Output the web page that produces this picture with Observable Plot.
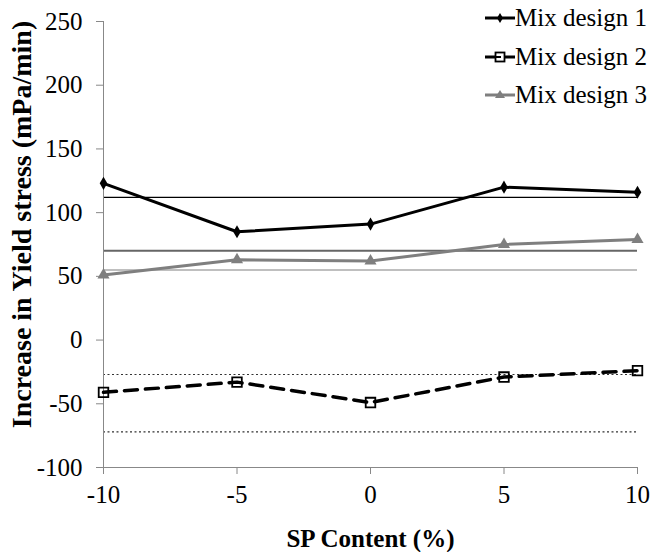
<!DOCTYPE html>
<html>
<head>
<meta charset="utf-8">
<script src="https://cdn.jsdelivr.net/npm/d3@7"></script>
<script src="https://cdn.jsdelivr.net/npm/@observablehq/plot@0.6"></script>
<style>
  body { margin: 0; background: #fff; }
  #chart { position: relative; width: 652px; height: 552px; font-family: "Liberation Serif", "Times New Roman", serif; }
  .legend-item { position: absolute; left: 485px; height: 30px; display: flex; align-items: center; font-size: 25px; white-space: nowrap; color: #000; }
  .legend-item svg { display: block; }
</style>
</head>
<body>
<div id="chart"></div>
<script>
// SP content (%) on the x axis
const spContent = [-10, -5, 0, 5, 10];

// Increase in yield stress (mPa/min) for each mix design
const mix1 = [123, 85, 91, 120, 116];
const mix2 = [-41, -33, -49, -29, -24];
const mix3 = [51, 63, 62, 75, 79];

// Horizontal reference levels
const mix1Level = [112];
const mix3Levels = [70, 55];
const mix2Levels = [-27, -72];

const seriesNames = ["Mix design 1", "Mix design 2", "Mix design 3"];
const xTicks = [-10, -5, 0, 5, 10];
const yTicks = [-100, -50, 0, 50, 100, 150, 200, 250];

const toRows = (vals) => spContent.map((x, i) => ({x, y: vals[i]}));
const rows1 = toRows(mix1), rows2 = toRows(mix2), rows3 = toRows(mix3);

const serif = "'Liberation Serif', 'Times New Roman', serif";

const plot = Plot.plot({
  width: 652,
  height: 552,
  marginLeft: 103,
  marginRight: 15,
  marginTop: 21,
  marginBottom: 85,
  style: { fontFamily: serif, fontSize: "25px", background: "#fff", color: "#000" },
  x: { domain: [-10, 10] },
  y: { domain: [-100, 250] },
  marks: [
    // reference levels
    Plot.ruleY(mix1Level, { stroke: "#000", strokeWidth: 1.2 }),
    Plot.ruleY([mix3Levels[0]], { stroke: "#666", strokeWidth: 2 }),
    Plot.ruleY([mix3Levels[1]], { stroke: "#aaa", strokeWidth: 1.5 }),
    Plot.ruleY(mix2Levels, { stroke: "#333", strokeWidth: 1.2, strokeDasharray: "2,2.5" }),
    // axes
    Plot.ruleX([-10], { stroke: "#888", strokeWidth: 1 }),
    Plot.ruleY([-100], { stroke: "#888", strokeWidth: 1 }),
    Plot.axisY({ ticks: yTicks, tickSize: 7, tickPadding: 14, stroke: "#888", fill: "#000", fontSize: 25, fontFamily: serif, label: null, tickFormat: d => String(d) }),
    Plot.axisX({ ticks: xTicks, tickSize: 7, tickPadding: 11, stroke: "#888", fill: "#000", fontSize: 25, fontFamily: serif, label: null, tickFormat: d => String(d) }),
    // axis titles
    Plot.text(["Increase in Yield stress (mPa/min)"], {
      frameAnchor: "left", textAnchor: "middle", rotate: -90, dx: -81, dy: -20,
      fontWeight: "bold", fontSize: 28, fontFamily: serif, text: d => d
    }),
    Plot.text(["SP Content (%)"], {
      frameAnchor: "bottom", dy: 79, fontWeight: "bold", fontSize: 25, fontFamily: serif, text: d => d
    }),
    // series
    Plot.line(rows3, { x: "x", y: "y", stroke: "#7f7f7f", strokeWidth: 3 }),
    Plot.dot(rows3, { x: "x", y: "y", symbol: "triangle", fill: "#7f7f7f", r: 4.5 }),
    Plot.line(rows1, { x: "x", y: "y", stroke: "#000", strokeWidth: 3 }),
    Plot.dot(rows1, { x: "x", y: "y", symbol: "diamond", fill: "#000", r: 4 }),
    Plot.line(rows2, { x: "x", y: "y", stroke: "#000", strokeWidth: 3.5, strokeDasharray: "13,8" }),
    Plot.dot(rows2, { x: "x", y: "y", symbol: "square", fill: "none", stroke: "#000", strokeWidth: 1.8, r: 5.4 })
  ]
});

const chart = document.getElementById("chart");
chart.appendChild(plot);

// legend in the top-right corner
const swatches = [
  `<svg width="30" height="20"><line x1="0" y1="10" x2="30" y2="10" stroke="#000" stroke-width="3"/><path d="M15,5 L18,10 L15,15 L12,10 Z" fill="#000"/></svg>`,
  `<svg width="30" height="20"><line x1="0" y1="10" x2="10" y2="10" stroke="#000" stroke-width="3"/><line x1="20" y1="10" x2="30" y2="10" stroke="#000" stroke-width="3"/><rect x="10.5" y="5.5" width="9" height="9" fill="none" stroke="#000" stroke-width="1.8"/><line x1="10" y1="10" x2="16" y2="10" stroke="#000" stroke-width="2"/></svg>`,
  `<svg width="30" height="20"><line x1="0" y1="10" x2="30" y2="10" stroke="#7f7f7f" stroke-width="3"/><path d="M15,5 L20,13 L10,13 Z" fill="#7f7f7f"/></svg>`
];
const legendTops = [3, 42, 80];
seriesNames.forEach((name, i) => {
  const item = document.createElement("div");
  item.className = "legend-item";
  item.style.top = legendTops[i] + "px";
  item.innerHTML = swatches[i] + `<span>${name}</span>`;
  chart.appendChild(item);
});
</script>
</body>
</html>
